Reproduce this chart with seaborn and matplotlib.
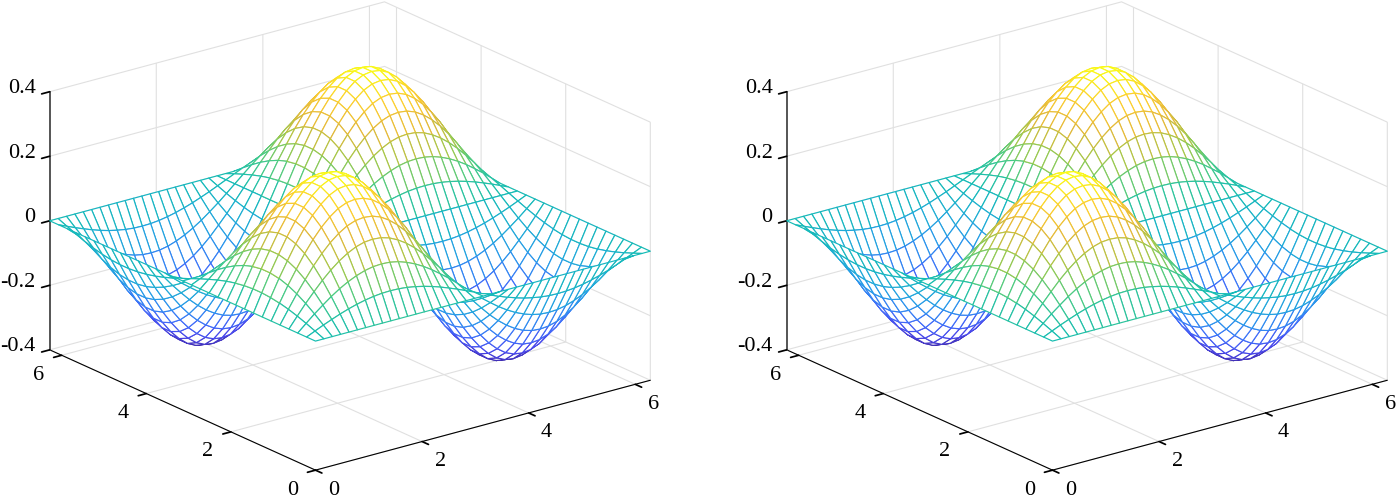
import numpy as np
import seaborn as sns
import matplotlib
matplotlib.use('Agg')
import matplotlib.pyplot as plt
from mpl_toolkits.mplot3d import proj3d

# grid lines of the mesh
x_lines = [0, .157, .314, .471, .628, .785, .942, 1.100, 1.257, 1.414, 1.571, 1.728, 1.885, 2.042,
           2.199, 2.356, 2.513, 2.670, 2.827, 2.985, 3.142, 3.299, 3.456, 3.613, 3.770, 3.927, 4.084,
           4.241, 4.398, 4.555, 4.712, 4.869, 5.027, 5.184, 5.341, 5.498, 5.655, 5.812, 5.969, 6.126, 6.283]
y_lines = [0, .209, .419, .628, .838, 1.047, 1.257, 1.466, 1.676, 1.885, 2.094, 2.304, 2.513, 2.723,
           2.932, 3.142, 3.351, 3.560, 3.770, 3.979, 4.189, 4.398, 4.608, 4.817, 5.027, 5.236, 5.445,
           5.655, 5.864, 6.074, 6.283]

# height along the ridge through the front peak
ridge_z = [0, .056, .111, .161, .209, .251, .287, .316, .338, .351, .355, .351, .338, .316, .287, .251,
           .209, .161, .111, .056, 0, -.056, -.111, -.161, -.209, -.251, -.287, -.316, -.338, -.351,
           -.355, -.351, -.338, -.316, -.287, -.251, -.209, -.161, -.111, -.056, 0]
# relative height of each y line
y_shape = [0, .208, .407, .588, .743, .866, .951, .995, .995, .951, .866, .743, .588, .407, .208, 0,
           -.208, -.407, -.588, -.743, -.866, -.951, -.995, -.995, -.951, -.866, -.743, -.588, -.407, -.208, 0]

x_ticks = [0, 2, 4, 6]
y_ticks = [0, 2, 4, 6]
z_ticks = [-0.4, -0.2, 0, 0.2, 0.4]
z_labels = ['-0.4', '-0.2', '0', '0.2', '0.4']
axis_max = 6.2832
z_lim = (-0.4, 0.4)

sns.set_theme(style='white')
plt.rcParams['font.family'] = ['Liberation Serif']

# parula like colors
mesh_cmap = sns.blend_palette(['#3d26a8', '#4746eb', '#3e6ffb', '#2797eb', '#1dadd4', '#13bcb4',
                               '#48cb86', '#9fc94b', '#e3b83a', '#fcce2e', '#f9fb15'],
                              n_colors=256, as_cmap=True)

X, Y = np.meshgrid(x_lines, y_lines)
Z = np.outer(y_shape, ridge_z)
cells = (Z[:-1, :-1] + Z[1:, :-1] + Z[:-1, 1:] + Z[1:, 1:]) / 4
edge_colors = mesh_cmap((cells.ravel() - Z.min()) / (Z.max() - Z.min()))

W, H = 1397, 498
fig = plt.figure(figsize=(W / 100, H / 100), dpi=100)
fig.patch.set_facecolor('white')

grid_gray = (0.88, 0.88, 0.88, 1)
size = 647


def tick_label(ax, text, pos, offset, ha):
    # axis3d places its own labels too far off, so put them next to the ticks by hand
    px, py, _ = proj3d.proj_transform(*pos, ax.get_proj())
    ax.annotate(text, xy=(px, py), xycoords='data', xytext=offset, textcoords='offset pixels',
                ha=ha, va='center', fontsize=16, color='black', annotation_clip=False)


def draw_panel(cx, cy):
    left = cx - 0.5135 * size
    bottom = (H - cy) - 0.5135 * size
    ax = fig.add_axes([left / W, bottom / H, size / W, size / H], projection='3d', proj_type='ortho')
    ax.patch.set_visible(False)
    ax.view_init(elev=20.4, azim=-127.6)
    ax.set_box_aspect((422, 435, 275))
    ax.set_xlim(0, axis_max)
    ax.set_ylim(0, axis_max)
    ax.set_zlim(*z_lim)
    surf = ax.plot_surface(X, Y, Z, rstride=1, cstride=1, color='white', shade=False, linewidth=0.85, antialiased=True)
    surf.set_edgecolors(edge_colors)
    ax.set_xticks(x_ticks)
    ax.set_yticks(y_ticks)
    ax.set_zticks(z_ticks)
    ax.set_xticklabels([])
    ax.set_yticklabels([])
    ax.set_zticklabels([])
    ax.tick_params(axis='both', colors='black')
    for axis in (ax.xaxis, ax.yaxis, ax.zaxis):
        axis.set_pane_color((1, 1, 1, 0))
        axis.pane.set_edgecolor(grid_gray)
        axis._axinfo['grid']['color'] = grid_gray
        axis._axinfo['grid']['linewidth'] = 0.8
        axis._axinfo['tick']['inward_factor'] = 0.3
        axis._axinfo['tick']['outward_factor'] = 0.0
        axis._axinfo['tick']['color'] = 'black'
        axis.line.set_color('black')
        axis.line.set_linewidth(0.8)
    ax.zaxis.set_ticks_position('upper')
    ax.zaxis.line.set_color('#555555')
    ax.zaxis.line.set_linewidth(1.4)
    for t in x_ticks:
        tick_label(ax, str(t), (t, 0, z_lim[0]), (18, -20), 'center')
    for t in y_ticks:
        tick_label(ax, str(t), (0, t, z_lim[0]), (-23, -20), 'center')
    for t, label in zip(z_ticks, z_labels):
        tick_label(ax, label, (0, axis_max, t), (-14, 3), 'right')
    return ax


draw_panel(350, 236)
draw_panel(1087, 236)

fig.savefig('out.png', dpi=100)
